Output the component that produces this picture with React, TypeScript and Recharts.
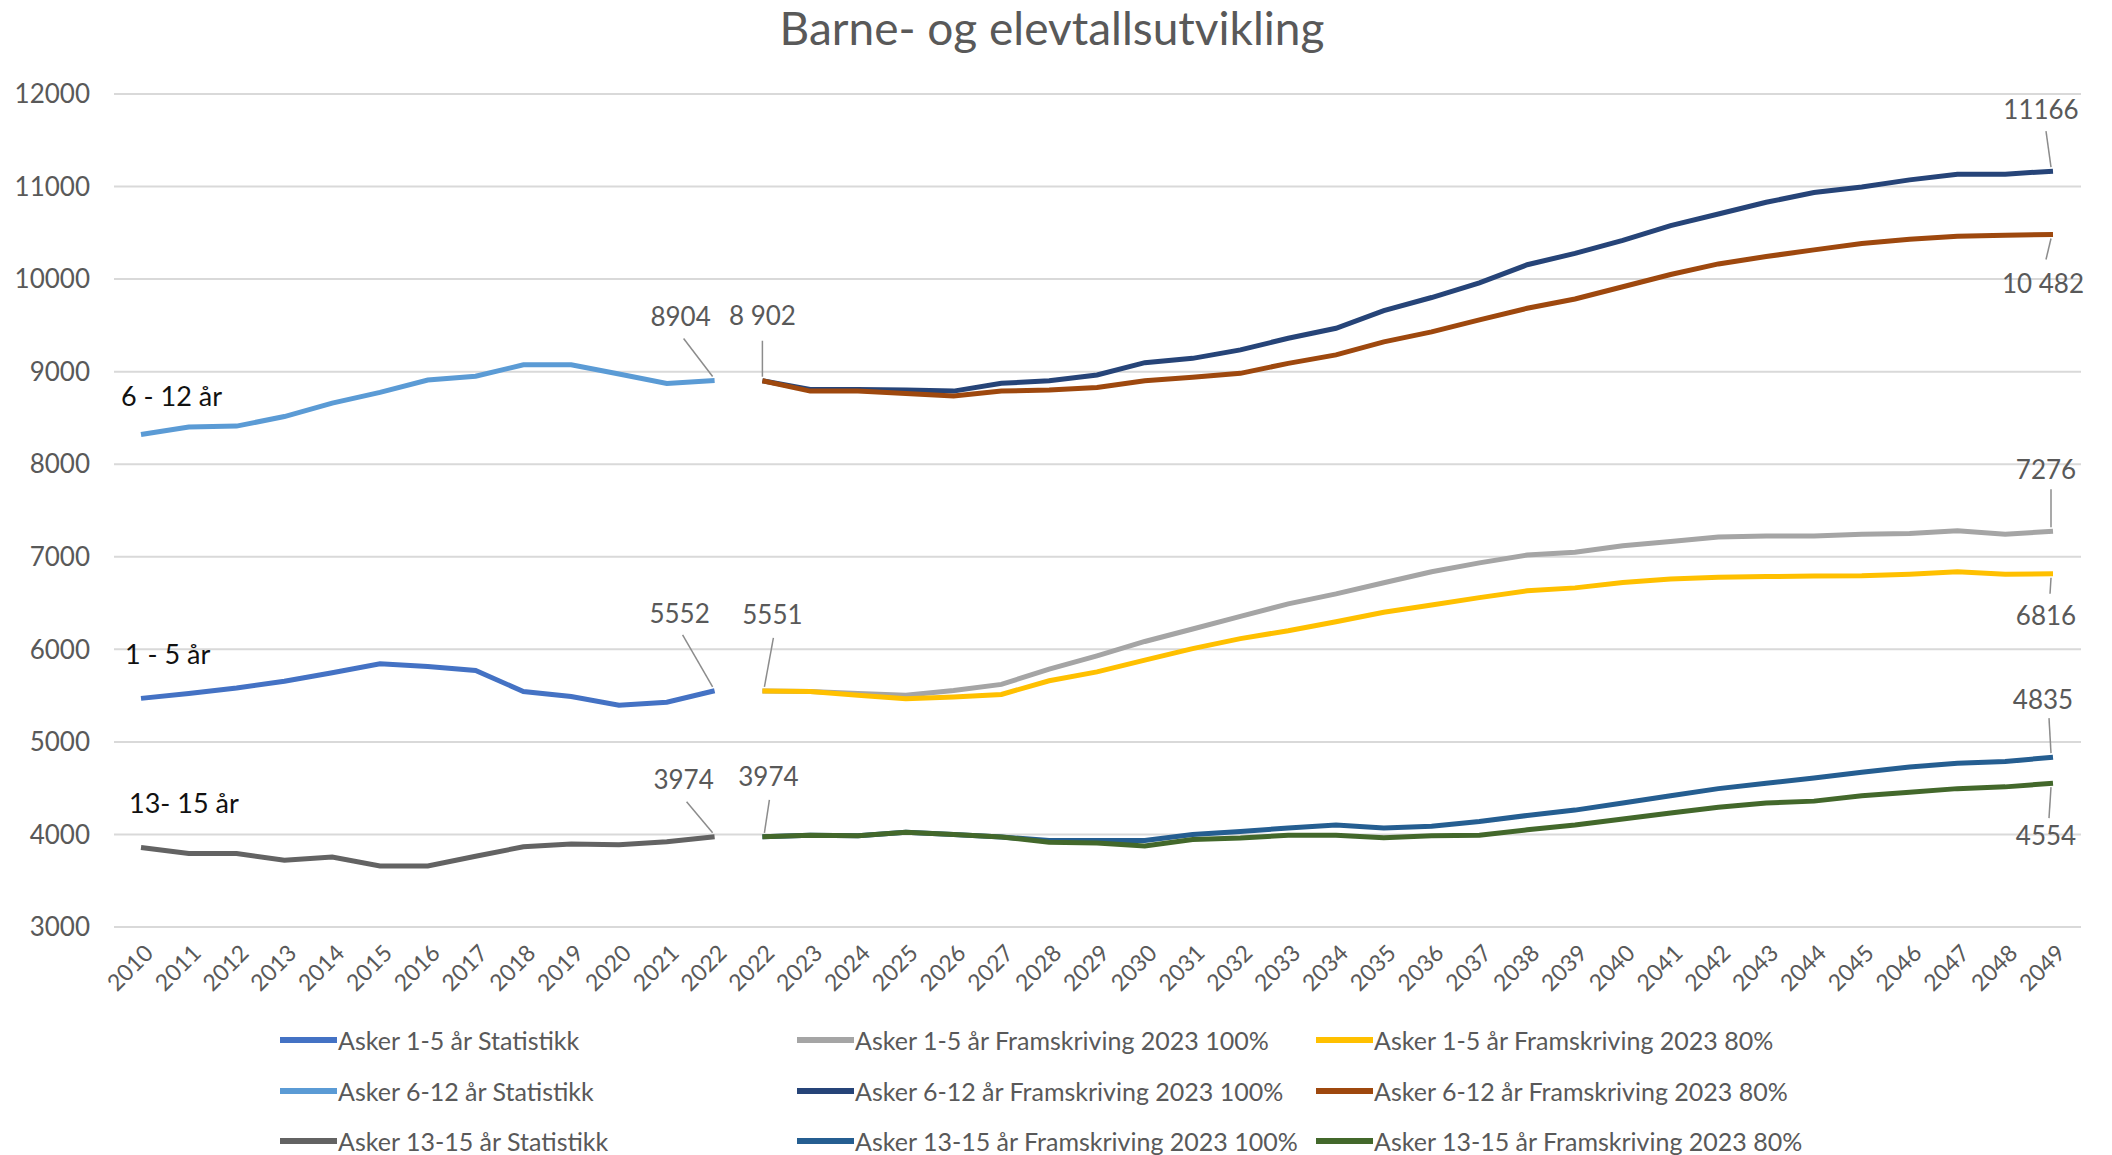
import React from 'react';
import { LineChart, Line, XAxis, YAxis, CartesianGrid } from 'recharts';

const FONT = 'Lato, "Open Sans", sans-serif';
const TEXT = '#595959';

// x categories: statistics 2010-2022, then projection 2022-2049
const years = [
  '2010', '2011', '2012', '2013', '2014', '2015', '2016', '2017', '2018', '2019', '2020', '2021', '2022',
  '2022', '2023', '2024', '2025', '2026', '2027', '2028', '2029', '2030', '2031', '2032', '2033', '2034',
  '2035', '2036', '2037', '2038', '2039', '2040', '2041', '2042', '2043', '2044', '2045', '2046', '2047',
  '2048', '2049',
];

const yTicks = [3000, 4000, 5000, 6000, 7000, 8000, 9000, 10000, 11000, 12000];

// statistikk 2010-2022
const stat1to5 = [5470, 5524, 5582, 5656, 5747, 5843, 5814, 5772, 5544, 5490, 5395, 5428, 5552];
const stat6to12 = [8321, 8403, 8412, 8515, 8660, 8776, 8909, 8950, 9075, 9075, 8975, 8872, 8904];
const stat13to15 = [3859, 3793, 3793, 3722, 3756, 3660, 3660, 3764, 3867, 3896, 3888, 3921, 3974];

// framskriving 2022-2049
const proj1to5full = [5551, 5544, 5524, 5505, 5555, 5621, 5787, 5930, 6085, 6220, 6356, 6491, 6599, 6720,
  6838, 6934, 7019, 7050, 7120, 7166, 7213, 7224, 7224, 7244, 7251, 7282, 7244, 7276];
const proj1to5low = [5551, 5544, 5505, 5466, 5486, 5513, 5660, 5756, 5884, 6008, 6116, 6201, 6298, 6400,
  6478, 6559, 6633, 6664, 6722, 6760, 6780, 6787, 6791, 6795, 6811, 6838, 6811, 6816];
const proj6to12full = [8902, 8808, 8808, 8801, 8790, 8874, 8902, 8964, 9097, 9144, 9235, 9361, 9469, 9660,
  9801, 9960, 10155, 10278, 10419, 10578, 10704, 10830, 10935, 10996, 11072, 11134, 11134, 11166];
const proj6to12low = [8902, 8790, 8790, 8765, 8736, 8790, 8801, 8830, 8902, 8939, 8982, 9090, 9181, 9322,
  9430, 9560, 9685, 9785, 9917, 10050, 10164, 10244, 10316, 10385, 10430, 10462, 10475, 10482];
const proj13to15full = [3974, 3992, 3985, 4023, 4000, 3973, 3934, 3934, 3934, 4000, 4031, 4070, 4101, 4070,
  4089, 4139, 4205, 4263, 4340, 4418, 4495, 4553, 4611, 4671, 4729, 4768, 4787, 4835];
const proj13to15low = [3974, 3992, 3985, 4023, 4000, 3973, 3915, 3907, 3876, 3946, 3961, 3992, 3992, 3965,
  3985, 3992, 4050, 4101, 4166, 4232, 4294, 4340, 4360, 4418, 4456, 4495, 4514, 4554];

const STAT_LEN = stat1to5.length;

const data = years.map((year, i) => {
  const j = i - STAT_LEN;
  return {
    year,
    s1: i < STAT_LEN ? stat1to5[i] : null,
    s2: i < STAT_LEN ? stat6to12[i] : null,
    s3: i < STAT_LEN ? stat13to15[i] : null,
    p1h: j >= 0 ? proj1to5full[j] : null,
    p1l: j >= 0 ? proj1to5low[j] : null,
    p2h: j >= 0 ? proj6to12full[j] : null,
    p2l: j >= 0 ? proj6to12low[j] : null,
    p3h: j >= 0 ? proj13to15full[j] : null,
    p3l: j >= 0 ? proj13to15low[j] : null,
  };
});

const series = [
  { key: 's1', name: 'Asker 1-5 år Statistikk', color: '#4472C4' },
  { key: 'p1h', name: 'Asker 1-5 år Framskriving 2023 100%', color: '#A5A5A5' },
  { key: 'p1l', name: 'Asker 1-5 år Framskriving 2023 80%', color: '#FFC000' },
  { key: 's2', name: 'Asker 6-12 år Statistikk', color: '#5B9BD5' },
  { key: 'p2h', name: 'Asker 6-12 år Framskriving 2023 100%', color: '#264478' },
  { key: 'p2l', name: 'Asker 6-12 år Framskriving 2023 80%', color: '#9E480E' },
  { key: 's3', name: 'Asker 13-15 år Statistikk', color: '#636363' },
  { key: 'p3h', name: 'Asker 13-15 år Framskriving 2023 100%', color: '#255E91' },
  { key: 'p3l', name: 'Asker 13-15 år Framskriving 2023 80%', color: '#43682B' },
];

// text notes next to points: text offset (tx, ty) and optional leader line end (lx, ly)
type Note = { index: number; text: string; tx: number; ty: number; lx?: number; ly?: number; anchor?: 'start' | 'middle'; dark?: boolean };

const LAST = years.length - 1;

const notes: Record<string, Note[]> = {
  s1: [
    { index: 0, text: '1 - 5 år', tx: -16, ty: -34, anchor: 'start', dark: true },
    { index: STAT_LEN - 1, text: '5552', tx: -35, ty: -68, lx: -32, ly: -56 },
  ],
  s2: [
    { index: 0, text: '6 - 12 år', tx: -20, ty: -29, anchor: 'start', dark: true },
    { index: STAT_LEN - 1, text: '8904', tx: -34, ty: -55, lx: -31, ly: -42 },
  ],
  s3: [
    { index: 0, text: '13- 15 år', tx: -12, ty: -34, anchor: 'start', dark: true },
    { index: STAT_LEN - 1, text: '3974', tx: -31, ty: -48, lx: -28, ly: -35 },
  ],
  p1h: [
    { index: STAT_LEN, text: '5551', tx: 10, ty: -67, lx: 11, ly: -53 },
    { index: LAST, text: '7276', tx: -7, ty: -52, lx: -2, ly: -42 },
  ],
  p1l: [{ index: LAST, text: '6816', tx: -7, ty: 51, lx: -3, ly: 20 }],
  p2h: [{ index: LAST, text: '11166', tx: -12, ty: -52, lx: -7, ly: -40 }],
  p2l: [
    { index: STAT_LEN, text: '8 902', tx: 0, ty: -56, lx: 0, ly: -40 },
    { index: LAST, text: '10 482', tx: -10, ty: 59, lx: -7, ly: 25 },
  ],
  p3h: [
    { index: STAT_LEN, text: '3974', tx: 6, ty: -51, lx: 7, ly: -37 },
    { index: LAST, text: '4835', tx: -10, ty: -48, lx: -4, ly: -39 },
  ],
  p3l: [{ index: LAST, text: '4554', tx: -7, ty: 62, lx: -4, ly: 35 }],
};

const makeLabel = (list: Note[]) => (props: any) => {
  const { x, y, index } = props;
  const hits = list.filter((n) => n.index === index);
  if (!hits.length || x == null || y == null) return null;
  return (
    <g key={`lbl-${index}-${hits[0].text}`}>
      {hits.map((n) => (
        <g key={n.text}>
          {n.lx !== undefined && n.ly !== undefined && (
            <line
              x1={x + Math.sign(n.lx) * 2}
              y1={y + Math.sign(n.ly) * 4}
              x2={x + n.lx}
              y2={y + n.ly}
              stroke="#8c8c8c"
              strokeWidth={1.5}
            />
          )}
          <text
            x={x + n.tx}
            y={y + n.ty}
            textAnchor={n.anchor || 'middle'}
            fontSize={n.dark ? 27 : 26}
            fontFamily={FONT}
            fill={n.dark ? '#111111' : TEXT}
          >
            {n.text}
          </text>
        </g>
      ))}
    </g>
  );
};

const YearTick = (props: any) => {
  const { x, y, payload } = props;
  const ax = x + 8;
  const ay = y + 14;
  return (
    <text
      x={ax}
      y={ay}
      dy={8}
      textAnchor="end"
      transform={`rotate(-45, ${ax}, ${ay})`}
      fontSize={23}
      fontFamily={FONT}
      fill={TEXT}
    >
      {payload.value}
    </text>
  );
};

const legendCols = [280, 797, 1316];
const legendRows = [1040, 1091, 1141];

const App: React.FC = () => {
  return (
    <div style={{ position: 'absolute', left: 0, top: 0, width: 2112, height: 1155, background: '#fff', overflow: 'hidden' }}>
      <LineChart width={2112} height={1155} data={data} margin={{ top: 94, right: 31, bottom: 0, left: 0 }}>
        <text x={1052} y={45} textAnchor="middle" fontSize={46} fontFamily={FONT} fill={TEXT}>
          Barne- og elevtallsutvikling
        </text>
        <CartesianGrid vertical={false} stroke="#d9d9d9" strokeWidth={2} />
        <XAxis
          dataKey="year"
          interval={0}
          height={228}
          padding={{ left: 27, right: 28 }}
          axisLine={{ stroke: '#d9d9d9', strokeWidth: 2 }}
          tickLine={false}
          tick={<YearTick />}
        />
        <YAxis
          width={114}
          domain={[3000, 12000]}
          ticks={yTicks}
          interval={0}
          axisLine={false}
          tickLine={false}
          tickSize={0}
          tickMargin={24}
          tick={{ fontSize: 26, fontFamily: FONT, fill: TEXT }}
        />
        {series.map((s) => (
          <Line
            key={s.key}
            dataKey={s.key}
            name={s.name}
            stroke={s.color}
            strokeWidth={5}
            dot={false}
            activeDot={false}
            connectNulls={false}
            isAnimationActive={false}
            label={makeLabel(notes[s.key] || [])}
          />
        ))}
      </LineChart>
      {series.map((s, i) => (
        <div
          key={s.key}
          style={{
            position: 'absolute',
            left: legendCols[i % 3],
            top: legendRows[Math.floor(i / 3)] - 16,
            height: 32,
            display: 'flex',
            alignItems: 'center',
            fontFamily: FONT,
            fontSize: 25,
            color: TEXT,
            whiteSpace: 'nowrap',
          }}
        >
          <span style={{ display: 'inline-block', width: 57, height: 6, background: s.color, marginRight: 1 }} />
          {s.name}
        </div>
      ))}
    </div>
  );
};

export default App;
